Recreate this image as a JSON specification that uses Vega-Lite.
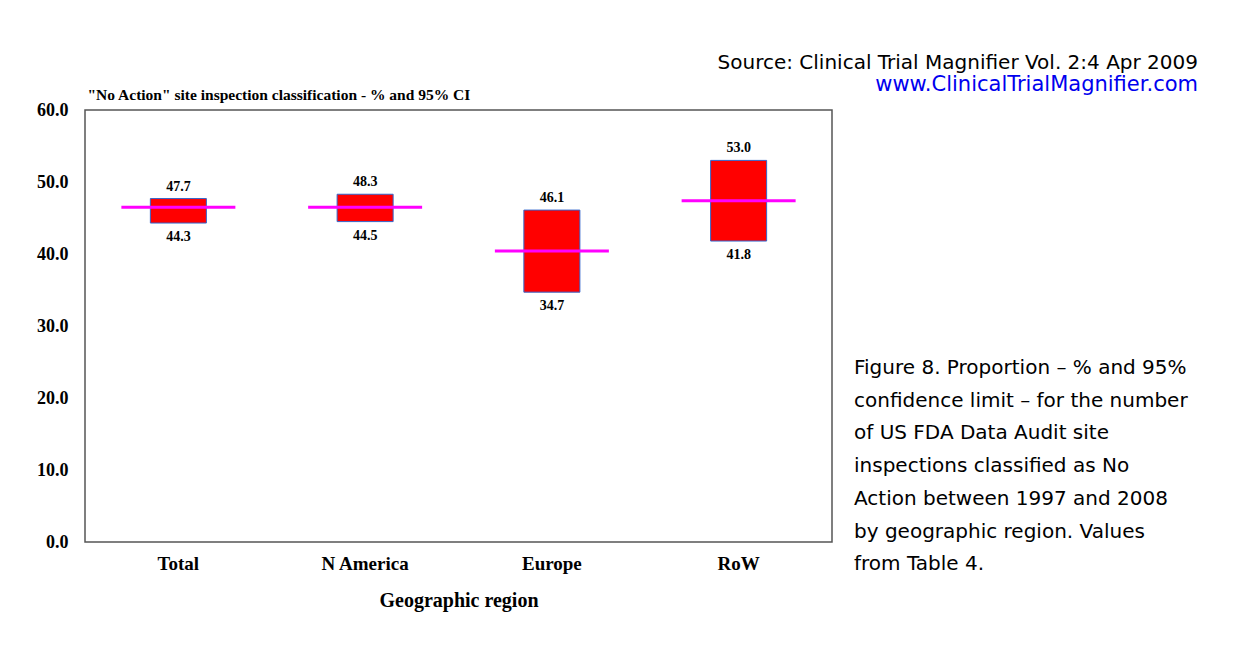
{
  "$schema": "https://vega.github.io/schema/vega-lite/v6.json",
  "background": "white",
  "padding": {"left": 35, "top": 53, "right": 10, "bottom": 10},
  "title": {
    "text": "Source: Clinical Trial Magnifier Vol. 2:4 Apr 2009",
    "subtitle": "www.ClinicalTrialMagnifier.com",
    "anchor": "end",
    "font": "DejaVu Sans",
    "fontSize": 20,
    "fontWeight": "normal",
    "color": "#000000",
    "subtitleFont": "DejaVu Sans",
    "subtitleFontSize": 21,
    "subtitleColor": "#0000ee",
    "subtitlePadding": 1,
    "offset": -9
  },
  "config": {"view": {"stroke": null}, "concat": {"spacing": 21}},
  "hconcat": [
    {
      "width": 747,
      "height": 432,
      "view": {"stroke": "#555555", "strokeWidth": 1.5},
      "data": {
        "values": [
          {"region": "Total", "lo": 44.3, "hi": 47.7, "mid": 46.5},
          {"region": "N America", "lo": 44.5, "hi": 48.3, "mid": 46.5},
          {"region": "Europe", "lo": 34.7, "hi": 46.1, "mid": 40.4},
          {"region": "RoW", "lo": 41.8, "hi": 53.0, "mid": 47.4}
        ]
      },
      "encoding": {
        "x": {
          "field": "region",
          "type": "nominal",
          "sort": null,
          "scale": {"paddingInner": 0, "paddingOuter": 0},
          "axis": {
            "title": "Geographic region",
            "titleFont": "Liberation Serif",
            "titleFontSize": 20,
            "titleFontWeight": "bold",
            "titleColor": "#000000",
            "titlePadding": 17,
            "labelFont": "Liberation Serif",
            "labelFontSize": 19,
            "labelFontWeight": "bold",
            "labelColor": "#000000",
            "labelAngle": 0,
            "labelPadding": 12,
            "ticks": false,
            "domain": false,
            "grid": false
          }
        }
      },
      "layer": [
        {
          "mark": {"type": "bar", "width": {"band": 0.3}, "fill": "#ff0000", "stroke": "#3366cc", "strokeWidth": 1},
          "encoding": {
            "y": {
              "field": "lo",
              "type": "quantitative",
              "scale": {"domain": [0, 60], "nice": false},
              "title": "\"No Action\" site inspection classification - % and 95% CI",
              "axis": {
                "values": [0, 10, 20, 30, 40, 50, 60],
                "format": ".1f",
                "labelFont": "Liberation Serif",
                "labelFontSize": 18,
                "labelFontWeight": "bold",
                "labelColor": "#000000",
                "labelPadding": 17,
                "ticks": false,
                "domain": false,
                "grid": false,
                "titleAngle": 0,
                "titleAlign": "left",
                "titleBaseline": "bottom",
                "titleX": 2,
                "titleY": -8,
                "titleFont": "Liberation Serif",
                "titleFontSize": 15.5,
                "titleFontWeight": "bold",
                "titleColor": "#000000"
              }
            },
            "y2": {"field": "hi"}
          }
        },
        {
          "mark": {"type": "tick", "color": "#ff00ff", "size": 114, "thickness": 3, "opacity": 1},
          "encoding": {
            "y": {"field": "mid", "type": "quantitative", "title": "\"No Action\" site inspection classification - % and 95% CI"}
          }
        },
        {
          "mark": {"type": "text", "dy": -12, "font": "Liberation Serif", "fontSize": 14, "fontWeight": "bold", "color": "#000000"},
          "encoding": {
            "y": {"field": "hi", "type": "quantitative", "title": "\"No Action\" site inspection classification - % and 95% CI"},
            "text": {"field": "hi", "type": "quantitative", "format": ".1f"}
          }
        },
        {
          "mark": {"type": "text", "dy": 14, "font": "Liberation Serif", "fontSize": 14, "fontWeight": "bold", "color": "#000000"},
          "encoding": {
            "y": {"field": "lo", "type": "quantitative", "title": "\"No Action\" site inspection classification - % and 95% CI"},
            "text": {"field": "lo", "type": "quantitative", "format": ".1f"}
          }
        }
      ]
    },
    {
      "width": 344,
      "height": 432,
      "view": {"stroke": null},
      "data": {
        "values": [
          {"line": 1, "t": "Figure 8. Proportion – % and 95%"},
          {"line": 2, "t": "confidence limit – for the number"},
          {"line": 3, "t": "of US FDA Data Audit site"},
          {"line": 4, "t": "inspections classified as No"},
          {"line": 5, "t": "Action between 1997 and 2008"},
          {"line": 6, "t": "by geographic region. Values"},
          {"line": 7, "t": "from Table 4."}
        ]
      },
      "mark": {"type": "text", "align": "left", "baseline": "middle", "font": "DejaVu Sans", "fontSize": 20, "color": "#000000"},
      "encoding": {
        "x": {"datum": 0, "type": "quantitative", "scale": {"domain": [0, 1]}, "axis": null},
        "y": {"field": "line", "type": "quantitative", "scale": {"domain": [-6.89, 6.32], "reverse": true, "nice": false, "zero": false}, "axis": null},
        "text": {"field": "t"}
      }
    }
  ]
}
